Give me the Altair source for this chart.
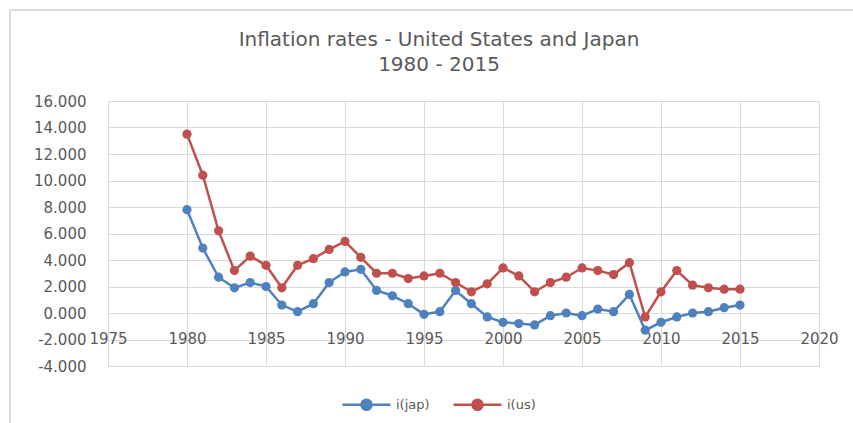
import altair as alt
import pandas as pd

# Annual inflation rates (%), 1980-2015
years = list(range(1980, 2016))
i_jap = [7.8, 4.9, 2.7, 1.9, 2.3, 2.0, 0.6, 0.1, 0.7, 2.3,
         3.1, 3.3, 1.7, 1.3, 0.7, -0.1, 0.1, 1.7, 0.7, -0.3,
         -0.7, -0.8, -0.9, -0.2, 0.0, -0.2, 0.3, 0.1, 1.4, -1.3,
         -0.7, -0.3, 0.0, 0.1, 0.4, 0.6]
i_us = [13.5, 10.4, 6.2, 3.2, 4.3, 3.6, 1.9, 3.6, 4.1, 4.8,
        5.4, 4.2, 3.0, 3.0, 2.6, 2.8, 3.0, 2.3, 1.6, 2.2,
        3.4, 2.8, 1.6, 2.3, 2.7, 3.4, 3.2, 2.9, 3.8, -0.3,
        1.6, 3.2, 2.1, 1.9, 1.8, 1.8]
series_names = ["i(jap)", "i(us)"]
series_colors = ["#4F81BD", "#C0504D"]
title_lines = ["Inflation rates - United States and Japan", "1980 - 2015"]
x_ticks = list(range(1975, 2021, 5))
y_ticks = list(range(-4, 17, 2))

rows = []
for name, vals in zip(series_names, [i_jap, i_us]):
    for yr, v in zip(years, vals):
        rows.append({"year": yr, "rate": v, "series": name})
df = pd.DataFrame(rows)

FONT = "DejaVu Sans"
TEXT = "#595959"
GRID = "#D9D9D9"

color = alt.Color(
    "series:N",
    scale=alt.Scale(domain=series_names, range=series_colors),
    legend=alt.Legend(
        title=None,
        orient="none",
        direction="horizontal",
        legendX=233,
        legendY=278,
        symbolType="M-1,0H1M-0.21,0A0.21,0.21,0,1,0,0.21,0A0.21,0.21,0,1,0,-0.21,0Z",
        symbolSize=2304,
        symbolStrokeWidth=2.5,
        labelFontSize=13,
        labelFont=FONT,
        labelColor=TEXT,
        labelOffset=4,
        columnPadding=18,
        padding=0,
    ),
)

x = alt.X(
    "year:Q",
    scale=alt.Scale(domain=[1975, 2020], nice=False, zero=False),
    axis=alt.Axis(
        title=None, values=x_ticks, format="d",
        domain=False, ticks=False, offset=-35, labelPadding=0,
        labelFontSize=15, labelFont=FONT, labelColor=TEXT,
        gridColor=GRID, gridWidth=1, labelFlush=False, labelOverlap=False,
    ),
)
y = alt.Y(
    "rate:Q",
    scale=alt.Scale(domain=[-4, 16], nice=False),
    axis=alt.Axis(
        title=None, values=y_ticks,
        labelExpr="datum.value < 0 ? '-' + format(-datum.value, '.3f') : format(datum.value, '.3f')",
        domain=False, ticks=False, labelPadding=22,
        labelFontSize=15, labelFont=FONT, labelColor=TEXT,
        gridColor=GRID, gridWidth=1, labelOverlap=False,
    ),
)

base = alt.Chart(df).encode(x=x, y=y, color=color)
lines = base.mark_line(strokeWidth=2.5)
points = base.mark_point(filled=True, size=85, opacity=1)

# chart title, two centred lines above the plot
title_df = pd.DataFrame({"line": title_lines})
title_1 = alt.Chart(title_df.iloc[[0]]).mark_text(
    font=FONT, fontSize=20, color=TEXT, align="center", baseline="middle"
).encode(text="line:N", x=alt.value(331), y=alt.value(-61))
title_2 = alt.Chart(title_df.iloc[[1]]).mark_text(
    font=FONT, fontSize=20, color=TEXT, align="center", baseline="middle"
).encode(text="line:N", x=alt.value(331), y=alt.value(-36))

# light frame around the chart
one = pd.DataFrame({"k": [0]})
frame_top = alt.Chart(one).mark_rule(color="#D0D0D0", strokeWidth=1.5).encode(
    x=alt.value(-98), x2=alt.value(745), y=alt.value(-91)
)
frame_left = alt.Chart(one).mark_rule(color="#D0D0D0", strokeWidth=1.5).encode(
    x=alt.value(-98), y=alt.value(-91), y2=alt.value(322)
)

chart = (
    alt.layer(lines, points, frame_top, frame_left, title_1, title_2)
    .properties(
        width=711,
        height=265,
        autosize=alt.AutoSizeParams(type="none"),
        padding={"left": 108, "top": 101, "right": 34, "bottom": 57},
    )
    .configure_view(stroke=None)
    .configure(background="white")
)

chart.save("out.html", embed_options={"renderer": "svg", "actions": False})
